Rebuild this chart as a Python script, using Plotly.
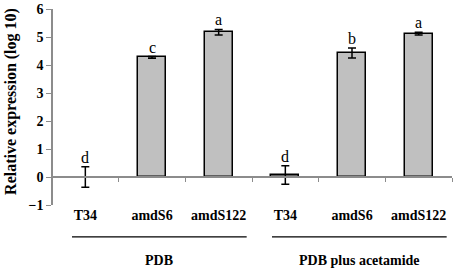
import plotly.graph_objects as go

categories = ["T34", "amdS6", "amdS122", "T34", "amdS6", "amdS122"]
values = [0.0, 4.27, 5.17, 0.07, 4.43, 5.12]
errors = [0.37, 0.03, 0.10, 0.33, 0.18, 0.05]
letters = ["d", "c", "a", "d", "b", "a"]
groups = ["PDB", "PDB plus acetamide"]
group_sizes = [3, 3]
y_ticks = [-1, 0, 1, 2, 3, 4, 5, 6]

FONT = "Liberation Serif, Times New Roman, serif"
pos = list(range(len(categories)))
bounds = [p + 0.5 for p in pos]
line_widths = [0 if v == 0 else 1.5 for v in values]

fig = go.Figure()
fig.add_trace(go.Bar(
    x=pos, y=values, width=0.42,
    marker=dict(color="#c0c0c0", line=dict(color="black", width=line_widths)),
    error_y=dict(type="data", array=errors, visible=True, color="black", thickness=1.5, width=4),
    showlegend=False, hoverinfo="skip",
))
fig.add_trace(go.Scatter(x=pos, y=[None] * len(pos), xaxis="x2", mode="markers",
                         showlegend=False, hoverinfo="skip"))

for p, v, e, l in zip(pos, values, errors, letters):
    fig.add_annotation(x=p, y=v + e, xref="x", yref="y", text=l, showarrow=False,
                       yanchor="bottom", yshift=-1,
                       font=dict(family=FONT, size=16, color="black"))

# group lines and labels
start = 0
for g, n in zip(groups, group_sizes):
    x0 = start - 0.2
    x1 = start + n - 1 + 0.42
    fig.add_shape(type="line", xref="x", yref="paper", x0=x0, x1=x1, y0=-0.163, y1=-0.163,
                  line=dict(color="black", width=1.3))
    fig.add_annotation(x=(x0 + x1) / 2, y=-0.281, xref="x", yref="paper", text=g,
                       showarrow=False, yanchor="middle",
                       font=dict(family=FONT, size=14, color="black", weight="bold"))
    start += n

fig.add_annotation(x=-0.1025, y=0.526, xref="paper", yref="paper",
                   text="Relative expression (log 10)", textangle=-90, showarrow=False,
                   xanchor="center", yanchor="middle",
                   font=dict(family=FONT, size=16, color="black", weight="bold"))

fig.update_layout(
    width=454, height=271,
    margin=dict(l=52, r=2, t=9, b=66, autoexpand=False),
    plot_bgcolor="white", paper_bgcolor="white",
    font=dict(family=FONT, color="black"),
    xaxis=dict(range=[-0.5, 5.5], anchor="free", position=1 / 7, automargin=False,
               showline=True, linecolor="#8c8c8c", linewidth=1.5,
               tickmode="array", tickvals=bounds, ticks="outside", ticklen=4,
               tickcolor="#8c8c8c", tickwidth=1, showticklabels=False,
               showgrid=False, zeroline=False),
    xaxis2=dict(range=[-0.5, 5.5], overlaying="x", anchor="y", side="bottom", automargin=False,
                tickmode="array", tickvals=pos, ticktext=categories,
                ticks="", showline=False, showgrid=False, zeroline=False,
                tickfont=dict(family=FONT, size=14, color="black", weight="bold")),
    yaxis=dict(range=[-1, 6], anchor="free", position=0, automargin=False,
               tickmode="array", tickvals=y_ticks, ticks="outside", ticklen=5,
               tickcolor="#8c8c8c", showline=True, linecolor="#8c8c8c", linewidth=1.5,
               showgrid=False, zeroline=False,
               tickfont=dict(family=FONT, size=14, color="black", weight="bold")),
    bargap=0,
)

fig.write_html("out.html", config={"displayModeBar": False},
               post_script="document.body.style.margin='0';document.body.style.overflow='hidden';")
